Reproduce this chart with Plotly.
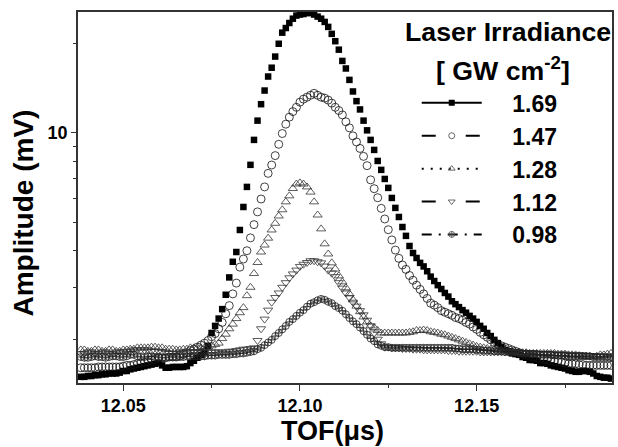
import numpy as np
import plotly.graph_objects as go

# TOF sampling grid (microseconds), 1 ns step
tof = np.round(12.038 + 0.001 * np.arange(151), 3)

irr_1_69 = [1.50,1.50,1.51,1.51,1.52,1.52,1.53,1.53,1.54,1.54,
 1.54,1.55,1.57,1.57,1.59,1.60,1.61,1.62,1.63,1.64,
 1.65,1.66,1.67,1.64,1.61,1.61,1.62,1.62,1.62,1.62,
 1.63,1.67,1.70,1.74,1.78,1.82,1.91,2.11,2.23,2.36,
 2.54,2.84,3.25,3.67,3.96,4.70,5.62,6.57,7.80,9.47,
 11.0,12.5,13.9,15.5,16.6,18.1,20.0,21.8,22.6,23.5,
 24.3,24.9,25.1,25.2,25.4,25.4,25.1,24.7,24.3,23.7,
 22.8,21.6,20.4,19.1,17.5,16.5,15.1,13.8,12.8,12.0,
 11.0,10.2,9.47,8.76,8.04,7.50,6.99,6.52,6.03,5.58,
 5.20,4.81,4.49,4.15,3.93,3.78,3.64,3.54,3.41,3.27,
 3.16,3.06,2.97,2.88,2.80,2.70,2.64,2.58,2.52,2.47,
 2.41,2.36,2.30,2.23,2.18,2.11,2.06,2.00,1.95,1.89,
 1.85,1.83,1.80,1.79,1.78,1.75,1.74,1.71,1.71,1.70,
 1.67,1.67,1.66,1.64,1.63,1.62,1.61,1.60,1.58,1.57,
 1.56,1.56,1.57,1.57,1.56,1.54,1.51,1.50,1.49,1.49,
 1.48]

irr_1_47 = [1.61,1.61,1.61,1.61,1.61,1.62,1.62,1.62,1.62,1.62,
 1.62,1.62,1.63,1.64,1.64,1.65,1.66,1.67,1.68,1.69,
 1.71,1.72,1.74,1.74,1.74,1.75,1.75,1.75,1.77,1.79,
 1.81,1.84,1.86,1.89,1.92,1.95,1.99,2.05,2.10,2.18,
 2.29,2.45,2.61,2.86,3.11,3.52,3.75,4.00,4.42,4.90,
 5.41,5.98,6.57,7.30,7.79,8.38,9.15,9.95,10.7,11.3,
 11.8,12.2,12.7,13.0,13.2,13.4,13.6,13.4,13.2,13.1,
 12.9,12.6,12.2,11.9,11.5,10.9,10.4,9.77,9.32,8.86,
 8.33,7.75,6.94,6.48,6.04,5.56,5.12,4.71,4.35,4.02,
 3.77,3.58,3.46,3.30,3.18,3.06,2.96,2.86,2.76,2.66,
 2.62,2.57,2.51,2.48,2.45,2.42,2.38,2.36,2.33,2.29,
 2.26,2.21,2.17,2.12,2.08,2.04,2.00,1.96,1.93,1.91,
 1.89,1.87,1.85,1.83,1.81,1.79,1.78,1.76,1.75,1.74,
 1.73,1.72,1.71,1.70,1.69,1.69,1.68,1.67,1.66,1.66,
 1.66,1.65,1.65,1.64,1.64,1.64,1.64,1.64,1.64,1.64,
 1.64]

irr_1_28 = [1.85,1.85,1.83,1.83,1.85,1.85,1.83,1.83,1.85,1.85,1.83,1.83,
 1.85,1.85,1.86,1.86,1.88,1.88,1.88,1.88,1.89,1.89,1.88,
 1.88,1.86,1.86,1.86,1.85,1.85,1.86,1.86,1.88,1.88,1.88,
 1.88,1.88,1.89,1.91,1.93,1.95,2.02,2.09,2.18,2.26,2.36,2.47,2.57,2.82,3.01,3.35,
 3.65,3.96,4.18,4.41,4.70,4.95,5.24,5.50,5.85,6.13,6.49,6.72,6.78,6.72,6.57,6.31,5.85,5.28,4.74,4.22,
 3.90,3.64,3.47,3.29,3.14,3.00,2.86,2.73,2.60,2.49,2.39,2.30,2.23,2.20,2.15,2.11,2.11,2.11,2.11,2.11,
 2.11,2.11,2.11,2.12,2.13,2.15,2.15,2.16,2.15,2.13,2.12,2.11,2.09,2.08,2.06,2.04,2.02,2.00,1.98,1.96,
 1.94,1.92,1.90,1.89,1.88,1.87,1.86,1.86,1.85,
 1.84,1.84,1.83,1.83,1.82,1.82,1.81,1.81,1.80,1.80,1.80,1.80,
 1.80,1.80,1.80,1.80,1.79,1.79,1.79,1.78,1.78,1.78,1.77,1.76,1.76,1.76,1.75,1.76,1.78,1.78,1.79,1.80]

irr_1_12 = [1.80,1.80,1.82,1.82,1.80,1.80,1.82,1.82,1.80,1.80,1.82,1.82,
 1.82,1.83,1.83,1.85,1.85,1.85,1.85,1.85,1.83,1.83,1.83,
 1.82,1.82,1.80,1.80,1.80,1.82,1.82,1.82,1.82,1.82,1.82,
 1.82,1.82,1.82,1.82,1.82,1.82,1.82,1.82,1.83,1.83,1.84,1.85,1.86,1.86,1.87,1.88,
 1.99,2.18,2.35,2.52,2.68,2.78,2.88,3.01,3.12,3.24,3.34,3.44,3.54,3.60,3.65,3.70,3.70,3.67,3.64,3.55,
 3.44,3.36,3.27,3.12,2.99,2.88,2.78,2.68,2.60,2.51,2.43,2.33,2.23,2.11,2.01,1.94,1.89,1.89,1.88,1.88,
 1.88,1.87,1.87,1.87,1.86,1.86,1.86,1.85,1.85,1.85,1.85,1.85,1.85,1.85,1.84,1.84,1.84,1.83,1.83,1.83,
 1.83,1.83,1.83,1.82,1.82,1.82,1.82,1.82,1.82,1.82,1.82,
 1.82,1.82,1.82,1.81,1.81,1.81,1.81,1.81,1.80,1.80,1.80,1.80,1.80,1.79,1.79,
 1.79,1.79,1.78,1.78,1.78,1.78,1.78,1.77,1.77,1.77,1.76,1.76,1.76,1.75,1.75]

irr_0_98 = [1.75,1.74,1.74,1.75,1.76,1.75,1.75,1.74,1.75,1.76,1.76,1.75,
 1.75,1.76,1.78,1.78,1.76,1.75,1.75,1.76,1.76,1.75,1.75,
 1.74,1.74,1.75,1.75,1.75,1.75,1.75,1.76,1.76,1.76,1.76,
 1.76,1.76,1.77,1.77,1.77,1.78,1.78,1.78,1.78,1.79,1.79,1.80,1.80,1.81,1.82,1.83,
 1.86,1.88,1.92,1.96,2.00,2.06,2.11,2.17,2.23,2.30,2.35,2.41,2.47,2.52,2.59,2.65,2.68,2.72,2.75,2.73,
 2.69,2.66,2.60,2.56,2.51,2.44,2.37,2.31,2.26,2.20,2.14,2.08,2.02,1.98,1.93,1.91,1.89,1.89,1.88,1.88,
 1.88,1.88,1.88,1.88,1.88,1.88,1.88,1.88,1.88,1.88,1.88,1.88,1.88,1.88,1.88,
 1.88,1.87,1.87,1.86,1.86,1.86,
 1.86,1.85,1.85,1.84,1.84,1.84,1.83,1.83,1.83,1.82,1.82,1.82,1.81,1.81,1.80,1.80,1.79,1.79,1.79,1.78,
 1.78,1.78,1.78,1.77,1.77,1.77,1.77,1.76,1.76,1.76,1.76,1.76,1.76,1.76,1.75,1.75,1.75,1.75,1.75,1.75]

labels = ["1.69", "1.47", "1.28", "1.12", "0.98"]
series = [irr_1_69, irr_1_47, irr_1_28, irr_1_12, irr_0_98]
legend_title = ["Laser Irradiance", "[ GW cm<sup>-2</sup>]"]

x_ticks = [12.05, 12.10, 12.15]
x_tick_text = ["12.05", "12.10", "12.15"]
x_minor = [12.075, 12.125, 12.175]
y_ticks = [10]
y_tick_text = ["10"]
y_minor = [2, 3, 4, 5, 6, 7, 8, 9, 20]

styles = [
    dict(symbol="square", size=6.5, color="black", line=dict(width=0)),
    dict(symbol="circle-open", size=8, color="#111111", line=dict(width=0.8)),
    dict(symbol="triangle-up-open", size=8, color="#333333", line=dict(width=0.8)),
    dict(symbol="triangle-down-open", size=8, color="#333333", line=dict(width=0.8)),
    dict(symbol="circle-cross-open", size=7, color="#222222", line=dict(width=0.8)),
]
leg_markers = [
    dict(symbol="square", size=6, color="black"),
    dict(symbol="circle-open", size=6, color="#444444", line=dict(width=0.8)),
    dict(symbol="triangle-up-open", size=6, color="#444444", line=dict(width=0.8)),
    dict(symbol="triangle-down-open", size=6, color="#444444", line=dict(width=0.8)),
    dict(symbol="circle-cross-open", size=6, color="#444444", line=dict(width=0.8)),
]
dashes = ["solid", "14px,30px", "2px,7px", "14px,30px", "10px,7px,2px,7px"]

fig = go.Figure()
for lab, ys, st in zip(labels, series, styles):
    fig.add_trace(go.Scatter(x=tof, y=ys, mode="markers", marker=st,
                             showlegend=False, name=lab))
for i, (lab, mk, ds) in enumerate(zip(labels, leg_markers, dashes)):
    fig.add_trace(go.Scatter(x=[None], y=[None], mode="lines+markers",
                             name="\u00a0\u00a0\u00a0\u00a0" + lab, marker=mk, legendgroup=f"g{i}",
                             line=dict(color="black", width=2, dash=ds)))

font_fam = "Liberation Sans, Arial, sans-serif"
fig.update_layout(
    width=618, height=447,
    margin=dict(l=78, r=4, t=12, b=64),
    paper_bgcolor="white", plot_bgcolor="white",
    font=dict(family=font_fam, color="black"),
    legend=dict(
        x=(418 - 78) / 536, xanchor="left", y=0.813, yanchor="top",
        bgcolor="rgba(0,0,0,0)", borderwidth=0,
        font=dict(size=23, weight="bold", family=font_fam),
        itemwidth=60, tracegroupgap=0,
    ),
)
fig.update_xaxes(
    range=[12.0372, 12.1883], tickmode="array", tickvals=x_ticks, ticktext=x_tick_text,
    ticks="outside", ticklen=6, tickwidth=1.3, tickcolor="#333",
    tickfont=dict(size=18, weight="bold", family=font_fam),
    showline=True, linecolor="#333", linewidth=1.5, mirror=True,
    showgrid=False, zeroline=False,
    minor=dict(tickvals=x_minor, ticks="outside", ticklen=3, tickwidth=1.3, tickcolor="#333", showgrid=False),
)
fig.update_yaxes(
    type="log", range=[np.log10(1.43), np.log10(25.6)],
    tickmode="array", tickvals=y_ticks, ticktext=y_tick_text,
    ticks="outside", ticklen=5, tickwidth=1.3, tickcolor="#333",
    tickfont=dict(size=18, weight="bold", family=font_fam),
    showline=True, linecolor="#333", linewidth=1.5, mirror=True,
    showgrid=False, zeroline=False,
    minor=dict(tickvals=y_minor, ticks="outside", ticklen=3, tickwidth=1.3, tickcolor="#333", showgrid=False),
)
# legend title (two centred lines)
fig.add_annotation(text=legend_title[0], xref="paper", yref="paper", x=1, y=1,
                   xshift=1, yshift=-20, showarrow=False, xanchor="right", yanchor="middle",
                   font=dict(size=26.7, weight="bold", family=font_fam))
fig.add_annotation(text=legend_title[1], xref="paper", yref="paper", x=(505 - 78) / 536, y=1,
                   yshift=-57, showarrow=False, xanchor="center", yanchor="middle",
                   font=dict(size=26.7, weight="bold", family=font_fam))
fig.add_annotation(text="Amplitude (mV)", xref="paper", yref="paper", x=0, y=0.5,
                   xshift=-55, yshift=-16, textangle=-90, showarrow=False,
                   xanchor="center", yanchor="middle",
                   font=dict(size=28, weight="bold", family=font_fam))
fig.add_annotation(text="TOF(μs)", xref="paper", yref="paper", x=0.5, y=0,
                   xshift=-13, yshift=-48, showarrow=False,
                   xanchor="center", yanchor="middle",
                   font=dict(size=27, weight="bold", family=font_fam))

fig.write_html("out.html", config={"displayModeBar": False},
               post_script="document.body.style.margin='0';document.body.style.overflow='hidden';")
